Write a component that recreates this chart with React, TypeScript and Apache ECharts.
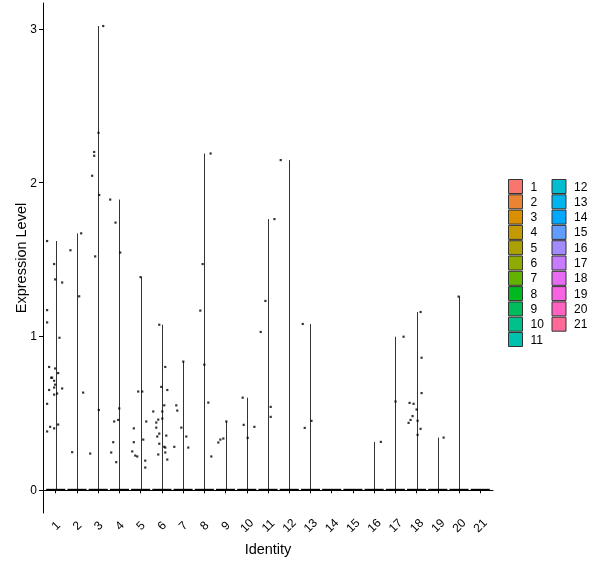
import React, { useEffect, useRef } from 'react';
import * as echarts from 'echarts';

const categories = ['1', '2', '3', '4', '5', '6', '7', '8', '9', '10', '11', '12', '13', '14', '15', '16', '17', '18', '19', '20', '21'];

const palette = [
  '#F8766D', '#EB8335', '#DA8F00', '#C49A00', '#AC9F00', '#8FAA00', '#64B200',
  '#00B81F', '#00BD5C', '#00C08B', '#00C0AF', '#00BDD0', '#00B5EE', '#00A9FF',
  '#619CFF', '#A58AFF', '#C77CFF', '#E76BF3', '#F763E0', '#FF62C1', '#FF6A98',
];

const yTicks = [0, 1, 2, 3];

// jitter offset (in category units) of each non-zero cell, per identity
const jitterByCluster: number[][] = [
  [-0.406, -0.075, -0.028, 0.302, -0.406, -0.406, 0.175, -0.311, -0.028, 0.113, -0.217, -0.17, -0.075, -0.028, -0.075, 0.302, -0.311, 0.066, -0.075, -0.406, 0.113, -0.264, -0.075, -0.406],
  [0.198, -0.307, 0.104, 0.292, -0.226],
  [0.236, 0.014, -0.189, -0.189, -0.283, 0.047, -0.142, 0.028, -0.377],
  [-0.434, -0.184, 0.038, -0.009, -0.057, -0.245, -0.292, -0.387, -0.151],
  [-0.005, -0.113, 0.075, 0.264, -0.321, 0.123, -0.321, -0.396, -0.255, -0.16, 0.217, 0.217],
  [-0.123, 0.16, -0.028, 0.255, 0.113, -0.406, 0.019, -0.17, 0.019, -0.264, -0.264, -0.123, -0.217, 0.208, -0.123, 0.113, 0.16, -0.17, 0.16, 0.255],
  [0.009, -0.321, -0.274, -0.085, 0.151, 0.245, -0.415],
  [0.297, -0.08, -0.189, 0, 0.189, 0.33],
  [0.038, -0.104, -0.245, -0.34],
  [-0.193, -0.146, 0.358, 0.042],
  [0.302, -0.123, -0.344, 0.127, 0.127],
  [-0.401],
  [-0.363, -0.269, 0.047],
  [],
  [],
  [0.316],
  [0.387, 0.009],
  [0.189, 0.236, 0.236, -0.33, -0.142, 0, -0.189, -0.283, -0.377, 0.047, 0.189, 0.047],
  [0.274],
  [-0.019],
  [],
];

// expression level of each non-zero cell, per identity
const valueByCluster: number[][] = [
  [1.62, 1.47, 1.37, 1.35, 1.17, 1.09, 0.99, 0.8, 0.79, 0.76, 0.73, 0.73, 0.71, 0.685, 0.666, 0.66, 0.65, 0.627, 0.62, 0.56, 0.425, 0.41, 0.4, 0.38],
  [1.67, 1.56, 1.26, 0.633, 0.245],
  [3.02, 2.325, 2.2, 2.175, 2.045, 1.92, 1.52, 0.52, 0.236],
  [1.89, 1.74, 1.545, 0.53, 0.455, 0.445, 0.31, 0.243, 0.18],
  [1.385, 0.64, 0.64, 0.445, 0.4, 0.327, 0.31, 0.25, 0.223, 0.217, 0.19, 0.145],
  [1.075, 0.8, 0.67, 0.65, 0.55, 0.51, 0.51, 0.457, 0.464, 0.438, 0.405, 0.366, 0.347, 0.353, 0.3, 0.28, 0.275, 0.23, 0.243, 0.197],
  [0.835, 0.55, 0.516, 0.405, 0.347, 0.275, 0.28],
  [2.19, 1.47, 1.167, 0.815, 0.568, 0.217],
  [0.445, 0.334, 0.327, 0.308],
  [0.6, 0.423, 0.41, 0.338],
  [1.763, 1.23, 1.028, 0.54, 0.475],
  [2.147],
  [1.08, 0.403, 0.449],
  [],
  [],
  [0.312],
  [0.997, 0.575],
  [1.158, 0.86, 0.63, 0.566, 0.56, 0.523, 0.48, 0.455, 0.436, 0.45, 0.397, 0.358],
  [0.34],
  [1.258],
  [],
];

const FONT = '"Liberation Sans", Arial, sans-serif';

export default function App() {
  const ref = useRef<HTMLDivElement>(null);
  useEffect(() => {
    const chart = echarts.init(ref.current!, null, { renderer: 'svg' });

    const violinSeries = categories.map((name, i) => {
      const vals = valueByCluster[i];
      const maxV = vals.length ? Math.max(...vals) : 0;
      return {
        type: 'custom',
        name,
        itemStyle: { color: palette[i] },
        data: [[i + 1, maxV]],
        silent: true,
        z: 2,
        renderItem: (params: any, api: any) => {
          const x = api.value(0);
          const m = api.value(1);
          const l = api.coord([x - 0.45, 0]);
          const r = api.coord([x + 0.45, 0]);
          const c = api.coord([x, m]);
          const cx = Math.round(c[0]) + 0.5;
          const children: any[] = [];
          if (m > 0) {
            children.push({
              type: 'line',
              shape: { x1: cx, y1: l[1], x2: cx, y2: c[1] },
              style: { stroke: '#333', lineWidth: 1 },
            });
          }
          children.push({
            type: 'line',
            shape: { x1: l[0], y1: l[1], x2: r[0], y2: r[1] },
            style: { stroke: '#000', lineWidth: 2 },
          });
          return { type: 'group', children };
        },
      };
    });

    const points: number[][] = [];
    valueByCluster.forEach((vals, i) => {
      vals.forEach((v, j) => points.push([i + 1 + jitterByCluster[i][j], v]));
    });

    const legendCommon = {
      orient: 'vertical',
      padding: 0,
      itemWidth: 14,
      itemHeight: 14,
      itemGap: 0.3,
      icon: 'rect',
      selectedMode: false,
      itemStyle: { borderColor: '#333', borderWidth: 1 },
      textStyle: { fontSize: 12, lineHeight: 14, color: '#000', fontFamily: FONT, padding: [0, 0, 0, 3] },
    };

    const option: any = {
      animation: false,
      textStyle: { fontFamily: FONT },
      grid: { left: 43, right: 107, top: 3, bottom: 55, containLabel: false, outerBoundsMode: 'none' },
      legend: [
        { ...legendCommon, left: 508, top: 179, data: categories.slice(0, 11) },
        { ...legendCommon, left: 551.5, top: 179, data: categories.slice(11) },
      ],
      xAxis: {
        type: 'value',
        min: 0.4,
        max: 21.6,
        splitLine: { show: false },
        axisLine: { lineStyle: { color: '#000', width: 1 } },
        axisTick: {
          customValues: categories.map((_, i) => i + 1),
          length: 3.5,
          lineStyle: { color: '#000' },
        },
        axisLabel: {
          customValues: categories.map((_, i) => i + 1),
          formatter: (v: number) => categories[Math.round(v) - 1],
          rotate: 45,
          align: 'center',
          verticalAlign: 'middle',
          margin: 12.5,
          fontSize: 12,
          color: '#000',
          fontFamily: FONT,
        },
        name: 'Identity',
        nameLocation: 'middle',
        nameGap: 28,
        nameMoveOverlap: false,
        nameTextStyle: { fontSize: 14.5, color: '#000', fontFamily: FONT },
      },
      yAxis: {
        type: 'value',
        min: -0.151,
        max: 3.17,
        splitLine: { show: false },
        axisLine: { show: true, lineStyle: { color: '#000', width: 1 } },
        axisTick: { show: true, customValues: yTicks, length: 4, lineStyle: { color: '#000' } },
        axisLabel: {
          customValues: yTicks,
          margin: 6,
          fontSize: 12,
          color: '#000',
          fontFamily: FONT,
        },
        name: 'Expression Level',
        nameLocation: 'middle',
        nameGap: 15,
        nameMoveOverlap: false,
        nameTextStyle: { fontSize: 14.5, color: '#000', fontFamily: FONT },
      },
      series: [
        ...violinSeries,
        {
          type: 'scatter',
          name: 'cells',
          data: points,
          symbol: 'rect',
          symbolSize: 2.2,
          itemStyle: { color: '#000' },
          silent: true,
          z: 3,
        },
      ],
    };

    chart.setOption(option);
    return () => chart.dispose();
  }, []);
  return <div ref={ref} style={{ position: 'fixed', left: 0, top: 0, width: 600, height: 568 }} />;
}
